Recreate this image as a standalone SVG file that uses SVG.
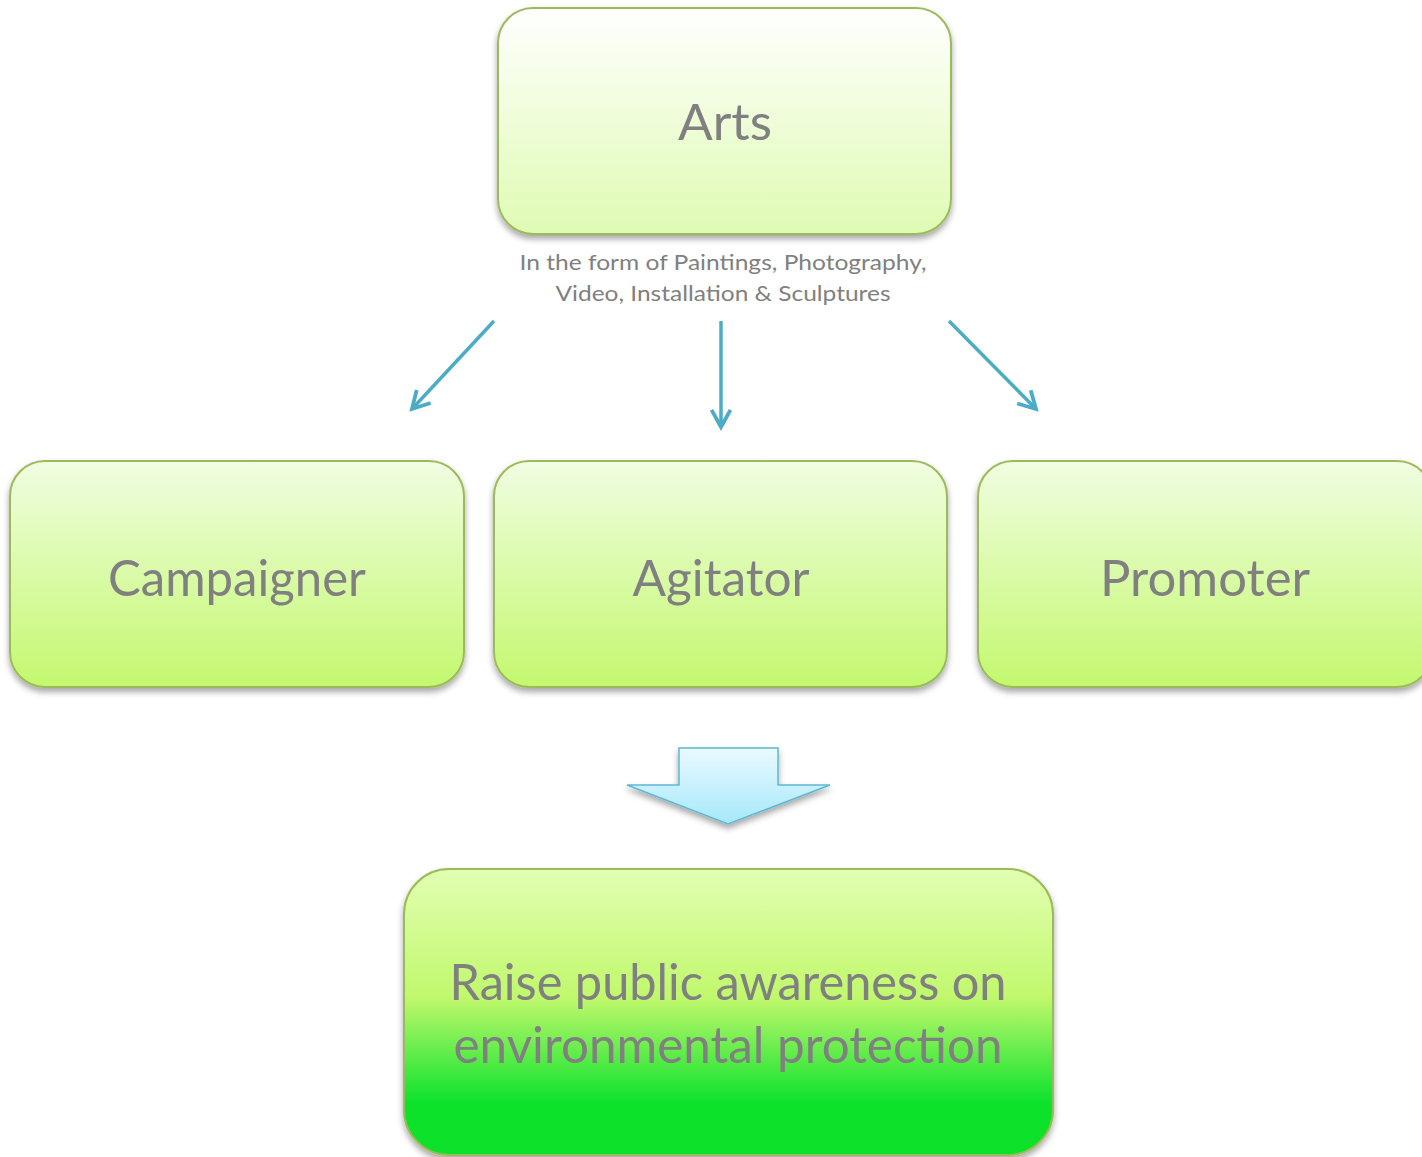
<svg xmlns="http://www.w3.org/2000/svg" width="1422" height="1157" viewBox="0 0 1422 1157">
<defs>
<linearGradient id="gTop" x1="0" y1="0" x2="0" y2="1">
<stop offset="0" stop-color="#ffffff"/>
<stop offset="1" stop-color="#dffbb3"/>
</linearGradient>
<linearGradient id="gMid" x1="0" y1="0" x2="0" y2="1">
<stop offset="0" stop-color="#f1fde2"/>
<stop offset="1" stop-color="#c3f86e"/>
</linearGradient>
<linearGradient id="gBot" x1="0" y1="0" x2="0" y2="1">
<stop offset="0" stop-color="#e2ffb2"/>
<stop offset="0.45" stop-color="#c0f86c"/>
<stop offset="0.82" stop-color="#0be22c"/>
<stop offset="1" stop-color="#08e02a"/>
</linearGradient>
<linearGradient id="gArr" x1="0" y1="0" x2="0" y2="1">
<stop offset="0" stop-color="#eafaff"/>
<stop offset="1" stop-color="#a6e8fb"/>
</linearGradient>
<filter id="sh" x="-10%" y="-10%" width="120%" height="130%">
<feDropShadow dx="0" dy="4" stdDeviation="3" flood-color="#000" flood-opacity="0.35"/>
</filter>
<marker id="open" viewBox="0 0 12 12" refX="10" refY="6" markerWidth="6.5" markerHeight="6.5" markerUnits="strokeWidth" orient="auto">
<path d="M1,1 L10,6 L1,11" fill="none" stroke="#4bacc6" stroke-width="2"/>
</marker>
</defs>
<style>
.box{stroke:#9bbb59;stroke-width:2;filter:url(#sh);}
.lbl{font-family:Lato,"Open Sans","Liberation Sans",sans-serif;fill:#808080;text-anchor:middle;}
.big{font-size:50px;}
.cap{font-size:22px;}
.conn{stroke:#4bacc6;stroke-width:3.5;fill:none;marker-end:url(#open);}
</style>
<g id="connectors">
<line class="conn" x1="494" y1="321" x2="412" y2="409"/>
<line class="conn" x1="721" y1="321" x2="721" y2="427"/>
<line class="conn" x1="949" y1="321" x2="1036" y2="409"/>
</g>
<g id="arts">
<rect class="box" x="498" y="8" width="453" height="226" rx="35" fill="url(#gTop)"/>
<text class="lbl big" x="725" y="140" textLength="94" lengthAdjust="spacingAndGlyphs">Arts</text>
</g>
<g id="caption">
<text class="lbl cap" x="723" y="270" textLength="407" lengthAdjust="spacingAndGlyphs">In the form of Paintings, Photography,</text>
<text class="lbl cap" x="723" y="301" textLength="335" lengthAdjust="spacingAndGlyphs">Video, Installation &amp; Sculptures</text>
</g>
<g id="campaigner">
<rect class="box" x="10" y="461" width="454" height="226" rx="35" fill="url(#gMid)"/>
<text class="lbl big" x="237" y="596" textLength="258" lengthAdjust="spacingAndGlyphs">Campaigner</text>
</g>
<g id="agitator">
<rect class="box" x="494" y="461" width="453" height="226" rx="35" fill="url(#gMid)"/>
<text class="lbl big" x="721" y="596" textLength="177" lengthAdjust="spacingAndGlyphs">Agitator</text>
</g>
<g id="promoter">
<rect class="box" x="978" y="461" width="454" height="226" rx="35" fill="url(#gMid)"/>
<text class="lbl big" x="1205" y="596" textLength="210" lengthAdjust="spacingAndGlyphs">Promoter</text>
</g>
<g id="blockarrow">
<path d="M679,748 L778,748 L778,785 L830,785 L728,824 L627,785 L679,785 Z" fill="url(#gArr)" stroke="#5fb8d4" stroke-width="1.5" filter="url(#sh)"/>
</g>
<g id="awareness">
<rect class="box" x="404" y="869" width="649" height="286" rx="45" fill="url(#gBot)"/>
<text class="lbl big" x="728" y="1000" textLength="557" lengthAdjust="spacingAndGlyphs">Raise public awareness on</text>
<text class="lbl big" x="728" y="1063" textLength="549" lengthAdjust="spacingAndGlyphs">environmental protection</text>
</g>
</svg>
